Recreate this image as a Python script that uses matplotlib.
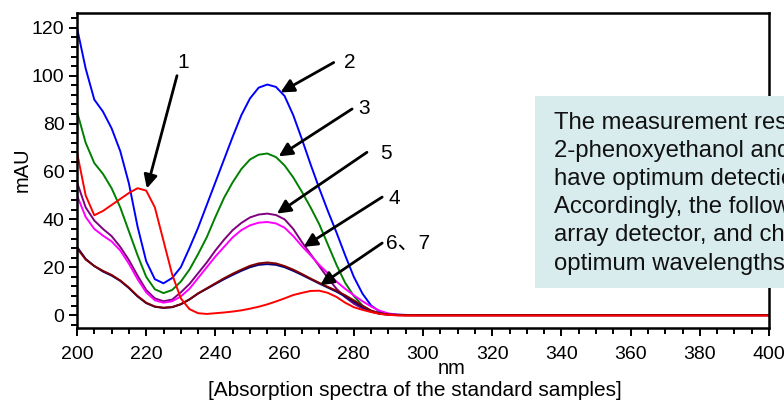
import matplotlib
matplotlib.use("Agg")
import matplotlib.pyplot as plt
from matplotlib.patches import Rectangle
from matplotlib.ticker import MultipleLocator

plt.rcParams["font.family"] = ["Liberation Sans", "Noto Sans CJK SC", "DejaVu Sans"]

# wavelength grid (nm)
WL = [200, 202.5, 205, 207.5, 210, 212.5, 215, 217.5, 220, 222.5,
      225, 227.5, 230, 232.5, 235, 237.5, 240, 242.5, 245, 247.5,
      250, 252.5, 255, 257.5, 260, 262.5, 265, 267.5, 270, 272.5,
      275, 277.5, 280, 282.5, 285, 287.5, 290, 292.5, 295, 297.5,
      300, 320, 340, 360, 380, 400]

TAIL = [0, 0, 0, 0, 0, 0]

S2_BLUE = [120, 103, 90, 85, 78, 68.5, 55, 37, 22.5, 15,
           13.3, 15.5, 20, 28, 36.5, 46, 55.5, 65, 74.5, 83.5,
           90.5, 95, 96.3, 95.3, 91.5, 83.5, 73.5, 63, 53, 43.5,
           34.5, 25, 16, 9, 4, 1.5, 0.5, 0.2, 0.1, 0] + TAIL
S3_GREEN = [85, 72, 63.5, 59, 53, 45, 35, 25, 16, 10.8,
            9.2, 10.5, 14, 19, 25.5, 32.5, 41, 49, 55.5, 61,
            65, 67, 67.5, 66, 62.5, 57.5, 51.5, 45, 38, 29.5,
            21, 13.5, 8, 4, 1.8, 0.8, 0.3, 0.1, 0, 0] + TAIL
S5_PURPLE = [55.5, 45, 39.5, 36, 33, 28.5, 23, 16.5, 10.5, 7,
             5.8, 6.5, 9.5, 13, 17.5, 22, 27, 31.5, 35.5, 38.5,
             40.8, 42, 42.4, 41.8, 40, 36, 30.5, 25.5, 20.5, 15.5,
             11, 7.5, 4.8, 2.8, 1.4, 0.6, 0.2, 0, 0, 0] + TAIL
S4_MAGENTA = [50, 41, 36, 33.2, 30.8, 27, 21.5, 15, 9.5, 6.2,
              5.2, 5.8, 7.8, 11, 15.5, 20, 24.5, 28.5, 32.5, 35.5,
              37.5, 38.6, 38.9, 38.3, 36.5, 33, 28.8, 25, 21, 17.5,
              14, 11, 8.3, 5.8, 3.6, 1.8, 0.7, 0.2, 0, 0] + TAIL
S6_NAVY = [28.5, 23.5, 20.5, 18.2, 16.5, 14.3, 11.3, 7.8, 5, 3.5,
           3, 3.3, 4.5, 6.5, 9, 11, 13, 15, 16.8, 18.5,
           20, 21, 21.3, 21, 20, 18.5, 16.8, 15, 13.2, 11.5,
           9.8, 7.8, 5.6, 3.4, 1.6, 0.6, 0.2, 0, 0, 0] + TAIL
S7_MAROON = [28, 23.2, 20.5, 18.5, 16.8, 14.5, 11.5, 8, 5.2, 3.6,
             3.1, 3.4, 4.6, 6.6, 9.1, 11.2, 13.3, 15.4, 17.3, 19,
             20.6, 21.6, 22, 21.6, 20.5, 19, 17.2, 15.3, 13.5, 11.8,
             10.2, 8.3, 6.2, 3.9, 1.9, 0.8, 0.3, 0.1, 0, 0] + TAIL
S1_RED = [68, 50, 41.7, 43.5, 46, 48.5, 51, 53, 52, 45,
          31, 17, 7, 2.5, 0.8, 0.5, 0.8, 1.1, 1.5, 2,
          2.7, 3.5, 4.5, 5.7, 7, 8.4, 9.3, 10.1, 10.2, 9.3,
          7.6, 5.2, 3.3, 2.2, 1.3, 0.5, 0.1, -0.1, -0.2, -0.2,
          -0.2, -0.2, -0.2, -0.2, -0.2, -0.2]

SERIES = [
    (S2_BLUE, "#0000ff"),
    (S3_GREEN, "#008000"),
    (S5_PURPLE, "#800080"),
    (S4_MAGENTA, "#ff00ff"),
    (S6_NAVY, "#000080"),
    (S7_MAROON, "#800000"),
    (S1_RED, "#ff0000"),
]

# label, arrow tail, arrow tip, label centre (data coords)
LABELS = ["1", "2", "3", "5", "4", "6、7"]
TAILS = [(228.9, 100), (274.2, 105.5), (279.5, 86.1), (283.8, 68), (288.2, 49.3), (288.2, 30.1)]
TIPS = [(220.2, 52.9), (258.8, 93), (258.3, 66.3), (257.8, 42.4), (265.5, 28.5), (270.3, 12.5)]
LABEL_POS = [(230.6, 105.5), (278.7, 105.5), (283.1, 86.1), (289.3, 67.5), (291.7, 48.7), (295.8, 30)]

NOTE = ("The measurement results showed that\n"
        "2-phenoxyethanol and the parabens\n"
        "have optimum detection wavelengths.\n"
        "Accordingly, the following photodiode\n"
        "array detector, and chose the\n"
        "optimum wavelengths for each.")

fig = plt.figure(figsize=(7.84, 4.05), dpi=100)
ax = fig.add_axes([77 / 784, 1 - 328.3 / 405, 692 / 784, (328.3 - 12.7) / 405])

for ys, c in SERIES:
    ax.plot(WL, ys, color=c, lw=1.4, solid_joinstyle="round")

for lab, tail, tip, pos in zip(LABELS, TAILS, TIPS, LABEL_POS):
    ax.annotate("", xy=tip, xytext=tail,
                arrowprops=dict(arrowstyle="-|>", color="black", lw=2.0,
                                mutation_scale=20, shrinkA=0, shrinkB=0))
    ax.text(pos[0], pos[1], lab, fontsize=15, ha="center", va="center")

ax.set_xlim(200, 400)
ax.set_ylim(-5.5, 126.3)
ax.xaxis.set_major_locator(MultipleLocator(20))
ax.xaxis.set_minor_locator(MultipleLocator(5))
ax.yaxis.set_major_locator(MultipleLocator(20))
ax.yaxis.set_minor_locator(MultipleLocator(4))
ax.tick_params(which="both", direction="out", width=1.4, labelsize=14)
ax.tick_params(axis="x", pad=7)
ax.tick_params(axis="y", pad=3)
ax.tick_params(which="major", length=6)
ax.tick_params(which="minor", length=4)
for sp in ax.spines.values():
    sp.set_linewidth(1.8)

fig.text(22 / 784, 1 - 170 / 405, "mAU", rotation=90, fontsize=14.5,
         ha="center", va="center")
fig.text(452 / 784, 1 - 369 / 405, "nm", fontsize=14.5, ha="center", va="center")
fig.text(415 / 784, 1 - 391 / 405, "[Absorption spectra of the standard samples]",
         fontsize=15, ha="center", va="center")

fig.patches.append(Rectangle((535 / 784, 1 - 287.5 / 405), 0.4, 191.5 / 405,
                             transform=fig.transFigure, facecolor="#d8ecee",
                             edgecolor="none", zorder=5))
fig.text(554 / 784, 1 - 112 / 405, NOTE, fontsize=17.2, color="#111111",
         ha="left", va="top", linespacing=1.36, zorder=6)

fig.savefig("out.png", dpi=100)
